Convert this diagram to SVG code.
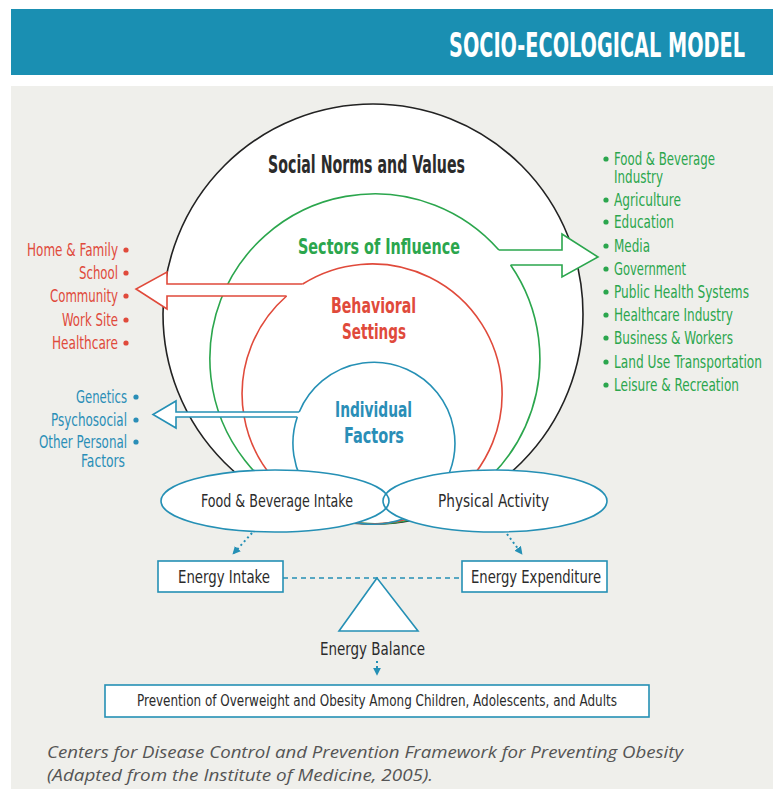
<svg xmlns="http://www.w3.org/2000/svg" width="773" height="789" viewBox="0 0 773 789">
<defs>
<style>
.c{font-family:"Liberation Sans Narrow","DejaVu Sans Condensed","Roboto","Liberation Sans",sans-serif;font-stretch:condensed}
.b{font-weight:bold}
.red{fill:#e04a3b}
.grn{fill:#2ba64d}
.blu{fill:#2a8eb7}
.dk{fill:#2b2b2b}
.lst{font-size:17px}
.bx{fill:#fff;stroke:#2590b5;stroke-width:1.6}
.dot{stroke:#2590b5;stroke-width:2;stroke-dasharray:2 3;fill:none}
.cap{font-family:"Open Sans","Noto Sans",sans-serif;font-style:italic;font-size:16px;fill:#555}
</style>
<marker id="ah" viewBox="0 0 10 10" refX="9" refY="5" markerWidth="4" markerHeight="4" orient="auto" markerUnits="strokeWidth">
<path d="M0 0 L10 5 L0 10 Z" fill="#2590b5"/>
</marker>
</defs>
<rect x="11" y="9" width="762" height="66" fill="#1a8fb2"/>
<text class="c b" x="449" y="57" font-size="34" fill="#fff" textLength="296" lengthAdjust="spacingAndGlyphs">SOCIO-ECOLOGICAL MODEL</text>
<rect x="11" y="86" width="762" height="703" fill="#efefeb"/>

<g id="social-norms">
<circle cx="373" cy="314" r="210" fill="#fff" stroke="#222" stroke-width="1.6"/>
<text class="c b dk" x="268" y="173" font-size="24" textLength="197" lengthAdjust="spacingAndGlyphs">Social Norms and Values</text>
</g>
<g id="sectors">
<path d="M510.6 265 A165 165 0 1 1 498.9 250" fill="none" stroke="#2ba64d" stroke-width="1.6"/>
<text class="c b grn" x="298" y="254" font-size="22" textLength="162" lengthAdjust="spacingAndGlyphs">Sectors of Influence</text>
</g>
<g id="settings">
<path d="M286.6 296 A130 130 0 1 0 302.7 284" fill="none" stroke="#e04a3b" stroke-width="1.6"/>
<text class="c b red" x="331" y="313" font-size="22" textLength="85" lengthAdjust="spacingAndGlyphs">Behavioral</text>
<text class="c b red" x="342" y="339" font-size="22" textLength="64" lengthAdjust="spacingAndGlyphs">Settings</text>
</g>
<g id="individual">
<path d="M297.3 417 A81 81 0 1 0 299.2 412" fill="none" stroke="#2590b5" stroke-width="1.6"/>
<text class="c b blu" x="335" y="417" font-size="22" textLength="77" lengthAdjust="spacingAndGlyphs">Individual</text>
<text class="c b blu" x="344" y="443" font-size="22" textLength="60" lengthAdjust="spacingAndGlyphs">Factors</text>
</g>

<g id="connectors">
<path d="M498.9 250 L562 250 L562 234 L598 257 L562 277 L562 265 L510.6 265" fill="#fff" stroke="#2ba64d" stroke-width="1.6" stroke-linejoin="miter"/>
<path d="M302.7 284 L167 284 L167 272 L136 289 L167 309 L167 296 L286.6 296" fill="#fff" stroke="#e04a3b" stroke-width="1.6"/>
<path d="M299.2 412 L176 412 L176 401 L153 414.5 L176 428 L176 417 L297.3 417" fill="#fff" stroke="#2590b5" stroke-width="1.6"/>
<line class="dot" x1="252" y1="533" x2="233" y2="554" marker-end="url(#ah)"/>
<line class="dot" x1="507" y1="534" x2="522" y2="554" marker-end="url(#ah)"/>
<line x1="283" y1="578" x2="462" y2="578" stroke="#2590b5" stroke-width="1.5" stroke-dasharray="5 4"/>
<line class="dot" x1="377" y1="661" x2="377" y2="675" marker-end="url(#ah)"/>
</g>

<g id="sector-list" class="c lst grn">
<circle cx="606" cy="159" r="2.6"/><text x="614" y="165" textLength="101" lengthAdjust="spacingAndGlyphs">Food &amp; Beverage</text>
<text x="614" y="183" textLength="49" lengthAdjust="spacingAndGlyphs">Industry</text>
<circle cx="606" cy="200" r="2.6"/><text x="614" y="206" textLength="67" lengthAdjust="spacingAndGlyphs">Agriculture</text>
<circle cx="606" cy="222" r="2.6"/><text x="614" y="228" textLength="60" lengthAdjust="spacingAndGlyphs">Education</text>
<circle cx="606" cy="246" r="2.6"/><text x="614" y="252" textLength="36" lengthAdjust="spacingAndGlyphs">Media</text>
<circle cx="606" cy="269" r="2.6"/><text x="614" y="275" textLength="72" lengthAdjust="spacingAndGlyphs">Government</text>
<circle cx="606" cy="292" r="2.6"/><text x="614" y="298" textLength="135" lengthAdjust="spacingAndGlyphs">Public Health Systems</text>
<circle cx="606" cy="315" r="2.6"/><text x="614" y="321" textLength="119" lengthAdjust="spacingAndGlyphs">Healthcare Industry</text>
<circle cx="606" cy="338" r="2.6"/><text x="614" y="344" textLength="119" lengthAdjust="spacingAndGlyphs">Business &amp; Workers</text>
<circle cx="606" cy="362" r="2.6"/><text x="614" y="368" textLength="148" lengthAdjust="spacingAndGlyphs">Land Use Transportation</text>
<circle cx="606" cy="385" r="2.6"/><text x="614" y="391" textLength="125" lengthAdjust="spacingAndGlyphs">Leisure &amp; Recreation</text>
</g>

<g id="settings-list" class="c lst red" text-anchor="end">
<text x="118" y="256" textLength="91" lengthAdjust="spacingAndGlyphs">Home &amp; Family</text><circle cx="126" cy="250" r="2.6"/>
<text x="118" y="279" textLength="39" lengthAdjust="spacingAndGlyphs">School</text><circle cx="126" cy="273" r="2.6"/>
<text x="118" y="302" textLength="68" lengthAdjust="spacingAndGlyphs">Community</text><circle cx="126" cy="296" r="2.6"/>
<text x="118" y="326" textLength="56" lengthAdjust="spacingAndGlyphs">Work Site</text><circle cx="126" cy="320" r="2.6"/>
<text x="118" y="349" textLength="66" lengthAdjust="spacingAndGlyphs">Healthcare</text><circle cx="126" cy="343" r="2.6"/>
</g>

<g id="individual-list" class="c lst blu">
<text x="127" y="403" text-anchor="end" textLength="51" lengthAdjust="spacingAndGlyphs">Genetics</text><circle cx="136" cy="397" r="2.6"/>
<text x="127" y="426" text-anchor="end" textLength="76" lengthAdjust="spacingAndGlyphs">Psychosocial</text><circle cx="136" cy="420" r="2.6"/>
<text x="127" y="448" text-anchor="end" textLength="88" lengthAdjust="spacingAndGlyphs">Other Personal</text><circle cx="136" cy="442" r="2.6"/>
<text x="81" y="467" textLength="44" lengthAdjust="spacingAndGlyphs">Factors</text>
</g>

<g id="food-intake">
<ellipse cx="275" cy="501" rx="114" ry="31" fill="#fff"/>
</g>
<g id="physical-activity">
<ellipse cx="495" cy="501" rx="112" ry="31" fill="#fff"/>
</g>
<ellipse cx="275" cy="501" rx="114" ry="31" fill="none" stroke="#2590b5" stroke-width="1.6"/>
<ellipse cx="495" cy="501" rx="112" ry="31" fill="none" stroke="#2590b5" stroke-width="1.6"/>
<text class="c dk" x="201" y="507" font-size="18" textLength="152" lengthAdjust="spacingAndGlyphs">Food &amp; Beverage Intake</text>
<text class="c dk" x="438" y="507" font-size="18" textLength="111" lengthAdjust="spacingAndGlyphs">Physical Activity</text>

<g id="energy-intake">
<rect class="bx" x="158" y="561" width="125" height="31"/>
<text class="c dk" x="178" y="583" font-size="18" textLength="92" lengthAdjust="spacingAndGlyphs">Energy Intake</text>
</g>
<g id="energy-expenditure">
<rect class="bx" x="462" y="561" width="145" height="31"/>
<text class="c dk" x="471" y="583" font-size="18" textLength="130" lengthAdjust="spacingAndGlyphs">Energy Expenditure</text>
</g>
<g id="energy-balance">
<polygon class="bx" points="377,578 339,631 418,631"/>
<text class="c dk" x="320" y="655" font-size="18" textLength="105" lengthAdjust="spacingAndGlyphs">Energy Balance</text>
</g>
<g id="prevention">
<rect class="bx" x="105" y="685" width="544" height="32"/>
<text class="c dk" x="137" y="706" font-size="16" textLength="480" lengthAdjust="spacingAndGlyphs">Prevention of Overweight and Obesity Among Children, Adolescents, and Adults</text>
</g>

<text class="cap" x="47" y="758" textLength="636" lengthAdjust="spacingAndGlyphs">Centers for Disease Control and Prevention Framework for Preventing Obesity</text>
<text class="cap" x="47" y="781" textLength="386" lengthAdjust="spacingAndGlyphs">(Adapted from the Institute of Medicine, 2005).</text>
</svg>
